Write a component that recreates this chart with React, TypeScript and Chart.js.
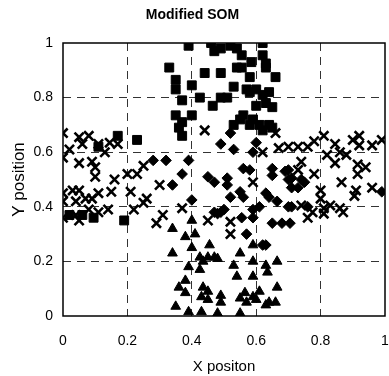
import React, { useEffect, useRef } from 'react';
import { Chart, registerables } from 'chart.js';

Chart.register(...registerables);

const titleText = 'Modified SOM';
const xTitle = 'X positon';
const yTitle = 'Y position';
const tickValues = [0, 0.2, 0.4, 0.6, 0.8, 1];

const squares: [number, number][] = [
  [0.39, 0.99], [0.46, 1.0], [0.47, 0.97], [0.49, 0.98], [0.52, 0.99], [0.54, 0.98], [0.555, 0.955],
  [0.62, 1.0], [0.62, 0.955], [0.33, 0.91], [0.44, 0.89], [0.49, 0.89], [0.54, 0.91], [0.555, 0.91],
  [0.58, 0.875], [0.63, 0.91], [0.66, 0.875], [0.35, 0.865], [0.40, 0.845], [0.35, 0.83], [0.425, 0.80],
  [0.37, 0.79], [0.49, 0.80], [0.51, 0.80], [0.57, 0.83], [0.60, 0.83], [0.62, 0.81], [0.465, 0.77],
  [0.60, 0.77], [0.63, 0.78], [0.65, 0.765], [0.35, 0.735], [0.37, 0.71], [0.40, 0.735], [0.55, 0.72],
  [0.53, 0.70], [0.59, 0.72], [0.61, 0.70], [0.64, 0.70], [0.56, 0.735], [0.36, 0.69], [0.37, 0.66],
  [0.58, 0.70], [0.62, 0.68], [0.65, 0.69], [0.53, 0.84], [0.585, 0.93], [0.63, 0.925], [0.58, 0.82],
  [0.64, 0.82], [0.17, 0.66], [0.23, 0.645], [0.11, 0.62], [0.095, 0.36], [0.19, 0.35], [0.02, 0.37],
  [0.06, 0.37],
];

const crosses: [number, number][] = [
  [0.0, 0.67], [0.0, 0.58], [0.0, 0.45], [0.0, 0.42], [0.0, 0.36], [0.05, 0.655], [0.08, 0.66],
  [0.02, 0.61], [0.06, 0.63], [0.11, 0.63], [0.13, 0.60], [0.145, 0.635], [0.17, 0.63], [0.05, 0.56],
  [0.09, 0.565], [0.10, 0.545], [0.10, 0.51], [0.16, 0.50], [0.20, 0.52], [0.23, 0.52], [0.25, 0.55],
  [0.15, 0.455], [0.21, 0.455], [0.30, 0.48], [0.03, 0.46], [0.05, 0.46], [0.04, 0.42], [0.07, 0.43],
  [0.09, 0.43], [0.11, 0.45], [0.14, 0.39], [0.22, 0.39], [0.25, 0.415], [0.26, 0.43], [0.31, 0.37],
  [0.04, 0.37], [0.08, 0.39], [0.11, 0.38], [0.05, 0.35], [0.29, 0.34], [0.45, 0.35], [0.52, 0.30],
  [0.44, 0.68], [0.37, 0.395], [0.59, 0.49], [0.62, 0.60], [0.52, 0.345],
  [0.81, 0.66], [0.78, 0.64], [0.845, 0.63], [0.90, 0.645], [0.92, 0.66], [0.92, 0.625], [0.96, 0.625],
  [0.99, 0.645], [0.70, 0.62], [0.73, 0.62], [0.76, 0.62], [0.67, 0.615], [0.82, 0.59], [0.86, 0.60],
  [0.88, 0.59], [0.845, 0.56], [0.74, 0.565], [0.915, 0.555], [0.94, 0.545], [0.73, 0.535], [0.78, 0.52],
  [0.915, 0.52], [0.865, 0.49], [0.80, 0.46], [0.80, 0.43], [0.91, 0.46], [0.905, 0.44], [0.96, 0.47],
  [0.81, 0.395], [0.83, 0.405], [0.86, 0.395], [0.74, 0.405], [0.775, 0.38], [0.76, 0.36], [0.81, 0.375],
  [0.87, 0.38], [0.66, 0.67],
];

const diamonds: [number, number][] = [
  [0.28, 0.57], [0.32, 0.57], [0.39, 0.57], [0.37, 0.52], [0.34, 0.48], [0.49, 0.63], [0.52, 0.67],
  [0.53, 0.61], [0.45, 0.51], [0.47, 0.49], [0.51, 0.505], [0.51, 0.48], [0.56, 0.54], [0.58, 0.535],
  [0.59, 0.60], [0.60, 0.635], [0.65, 0.54], [0.65, 0.515], [0.69, 0.53], [0.70, 0.50], [0.74, 0.50],
  [0.71, 0.47], [0.55, 0.455], [0.56, 0.435], [0.63, 0.45], [0.64, 0.435], [0.52, 0.435], [0.40, 0.425],
  [0.59, 0.39], [0.61, 0.40], [0.70, 0.40], [0.71, 0.40], [0.76, 0.40], [0.47, 0.38], [0.50, 0.39],
  [0.99, 0.455], [0.555, 0.36], [0.59, 0.36], [0.65, 0.34], [0.68, 0.34], [0.705, 0.34], [0.57, 0.30],
  [0.62, 0.26], [0.48, 0.375], [0.49, 0.38], [0.70, 0.535], [0.71, 0.505], [0.73, 0.47], [0.75, 0.49],
  [0.665, 0.42], [0.63, 0.26],
];

const triangles: [number, number][] = [
  [0.40, 0.35], [0.34, 0.32], [0.38, 0.29], [0.41, 0.30], [0.40, 0.25], [0.455, 0.26], [0.34, 0.23],
  [0.425, 0.215], [0.45, 0.215], [0.47, 0.215], [0.48, 0.21], [0.435, 0.20], [0.39, 0.18], [0.425, 0.17],
  [0.55, 0.23], [0.59, 0.26], [0.59, 0.20], [0.53, 0.185], [0.63, 0.185], [0.635, 0.16], [0.665, 0.20],
  [0.54, 0.145], [0.59, 0.145], [0.38, 0.13], [0.36, 0.105], [0.38, 0.085], [0.435, 0.105], [0.45, 0.09],
  [0.43, 0.07], [0.45, 0.06], [0.49, 0.075], [0.49, 0.05], [0.55, 0.065], [0.565, 0.085], [0.57, 0.05],
  [0.59, 0.07], [0.61, 0.09], [0.60, 0.06], [0.63, 0.04], [0.64, 0.05], [0.66, 0.05], [0.665, 0.105],
  [0.35, 0.035], [0.39, 0.015], [0.43, 0.015], [0.48, 0.01], [0.55, 0.01],
];

const toPts = (arr: [number, number][]) => arr.map(([x, y]) => ({ x, y }));

const framePlugin = {
  id: 'frame',
  beforeDatasetsDraw(chart: any) {
    const { ctx, chartArea } = chart;
    ctx.save();
    ctx.strokeStyle = '#000';
    ctx.lineWidth = 1.5;
    ctx.strokeRect(chartArea.left, chartArea.top, chartArea.right - chartArea.left, chartArea.bottom - chartArea.top);
    ctx.restore();
  },
};

export default function App() {
  const ref = useRef<HTMLCanvasElement | null>(null);
  useEffect(() => {
    if (!ref.current) return;
    Chart.defaults.font.family = "'Liberation Sans', Arial, sans-serif";
    const gridColor = (c: any) => {
      const v = c.tick ? c.tick.value : 0;
      return v <= 0.0001 || v >= 0.9999 ? 'rgba(0,0,0,0)' : '#333';
    };
    const mk = (label: string, data: [number, number][], style: string, radius: number, bw: number) => ({
      label,
      data: toPts(data),
      pointStyle: style,
      pointRadius: radius,
      pointHoverRadius: radius,
      backgroundColor: '#000',
      borderColor: '#000',
      borderWidth: bw,
      showLine: false,
    });
    const chart = new Chart(ref.current, {
      type: 'scatter',
      data: {
        datasets: [
          mk('squares', squares, 'rect', 6.3, 1),
          mk('crosses', crosses, 'crossRot', 6.5, 2.6),
          mk('diamonds', diamonds, 'rectRot', 5.3, 1),
          mk('triangles', triangles, 'triangle', 5.6, 1),
        ] as any,
      },
      options: {
        responsive: false,
        animation: false,
        layout: { autoPadding: false, padding: { top: 0, left: 0, right: 4, bottom: 0 } },
        plugins: {
          legend: { display: false },
          tooltip: { enabled: false },
          title: {
            display: true,
            text: titleText,
            color: '#000',
            font: { size: 14, weight: 'bold' },
            padding: { top: 6.6, bottom: 19.6 },
          },
        },
        scales: {
          x: {
            type: 'linear',
            min: 0,
            max: 1,
            afterBuildTicks: (s: any) => { s.ticks = tickValues.map((v) => ({ value: v })); },
            afterFit: (s: any) => { s.height = 60; s.paddingLeft = 0; s.paddingRight = 0; },
            ticks: { color: '#000', font: { size: 14 }, padding: 17, maxRotation: 0, callback: (v: any) => String(v) },
            grid: { color: gridColor, drawTicks: false, lineWidth: 1 },
            border: { display: false, dash: [8, 6] },
            title: { display: true, text: xTitle, color: '#000', font: { size: 15 }, padding: { top: 0, bottom: 0 } },
          },
          y: {
            type: 'linear',
            min: 0,
            max: 1,
            afterBuildTicks: (s: any) => { s.ticks = tickValues.map((v) => ({ value: v })); },
            afterFit: (s: any) => { s.width = 63; s.paddingTop = 0; s.paddingBottom = 0; },
            ticks: { color: '#000', font: { size: 14 }, padding: 10, callback: (v: any) => String(v) },
            grid: { color: gridColor, drawTicks: false, lineWidth: 1 },
            border: { display: false, dash: [8, 6] },
            title: { display: true, text: yTitle, color: '#000', font: { size: 17 }, padding: { top: 9, bottom: 0 } },
          },
        },
      } as any,
      plugins: [framePlugin],
    });
    return () => chart.destroy();
  }, []);
  return (
    <div style={{ position: 'absolute', left: 0, top: 0, width: 389, height: 376, background: '#fff' }}>
      <canvas ref={ref} width={389} height={376} />
    </div>
  );
}
